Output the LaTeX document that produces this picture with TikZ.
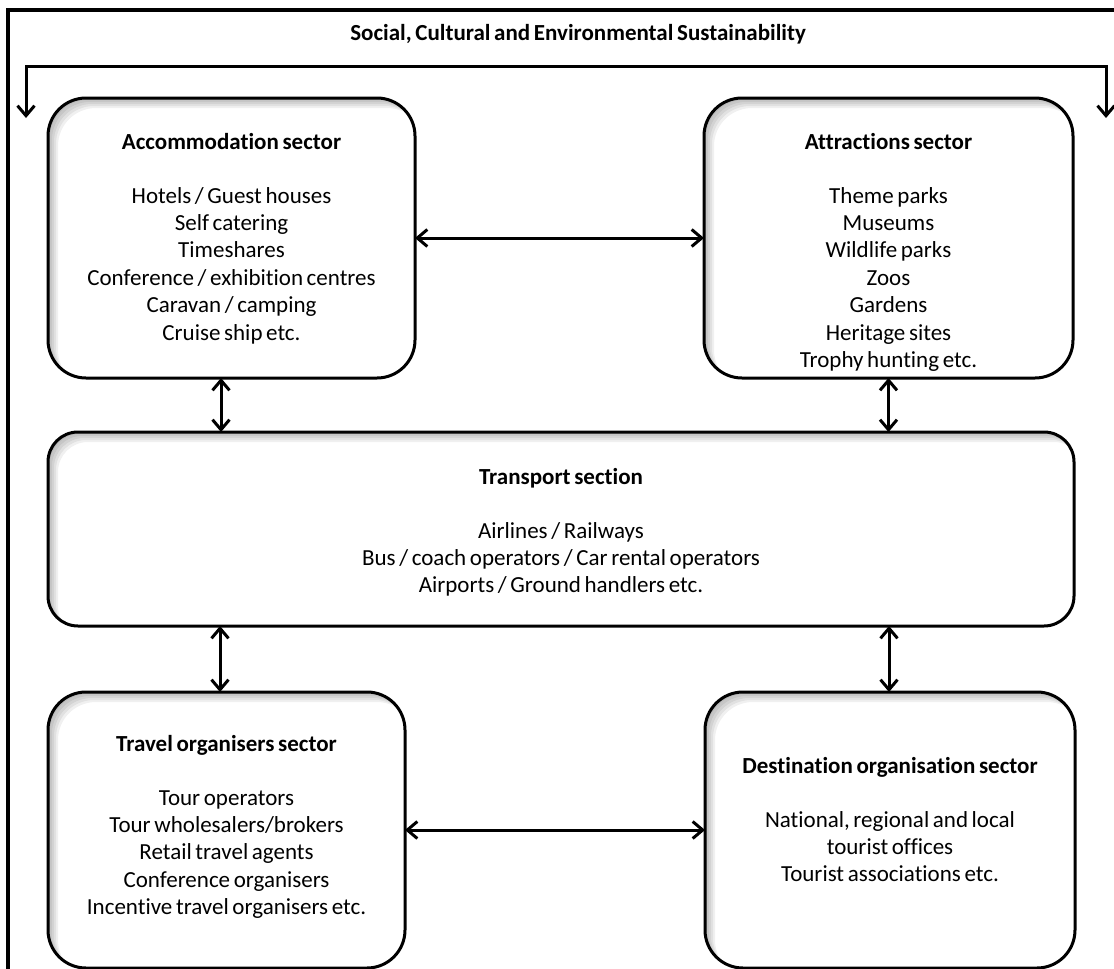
\documentclass[tikz,border=0pt]{standalone}
\usepackage{fontspec}
\setmainfont{Carlito}[Ligatures={NoCommon,NoContextual}, WordSpace=0.7]
\usetikzlibrary{arrows.meta,calc}

% text block of a sector box: width, height, first-baseline depth, heading, entries
\newcommand\sectorbody[5]{%
  \parbox[c][#2][t]{#1}{\centering\rule{0pt}{#3}\textbf{#4}\\[26.6pt]#5}}

\tikzset{
  % soft shadow along the inner top and left edges of a rounded box
  innershadow/.style={path picture={
    \foreach \k in {2,4,6,8,10}{
      \fill[black, opacity=0.06, even odd rule, rounded corners=#1]
        ([shift={(-30pt,30pt)}]path picture bounding box.north west) rectangle
        ([shift={(30pt,-30pt)}]path picture bounding box.south east)
        ([shift={(\k pt,-\k pt)}]path picture bounding box.north west) rectangle
        ([shift={(\k pt,-\k pt)}]path picture bounding box.south east);
    }}},
  sector/.style={draw, line width=3pt, rounded corners=#1, inner sep=0pt,
    outer sep=0pt, align=center, fill=white, innershadow=#1},
  head/.style={font=\bfseries\fontsize{23}{27.4}\selectfont},
  barb/.tip={Straight Barb[length=10pt,width=17pt]},
  link/.style={line width=3pt, barb-barb},
  feed/.style={line width=3pt, -barb},
}

\begin{document}
\begin{tikzpicture}[x=1pt, y=-1pt,
  every node/.style={font=\fontsize{23}{27.4}\selectfont, text=black}]

\useasboundingbox (0,0) rectangle (1114,969);
\fill[white] (0,0) rectangle (1114,969);

% outer frame (continues past the right and bottom edges)
\draw[line width=4pt] (8,975) -- (8,10) -- (1120,10);

% heading and the bracket feeding both upper sectors
\node[head] (sus) at (578,34) {Social, Cultural and Environmental Sustainability};
\coordinate (apex) at (578,66);
\coordinate (bl) at (26,118);
\coordinate (br) at (1106,118);
\draw[feed] (apex) -| (bl);
\draw[feed] (apex) -| (br);

% sector boxes
\node[sector=38, minimum width=367pt, minimum height=280pt] (acc) at (231.5,238)
  {\sectorbody{340pt}{280pt}{51pt}{Accommodation sector}{%
   Hotels / Guest houses\\ Self catering\\ Timeshares\\
   Conference / exhibition centres\\ Caravan / camping\\ Cruise ship etc.}};

\node[sector=38, minimum width=369pt, minimum height=280pt] (att) at (888.5,238)
  {\sectorbody{340pt}{280pt}{51pt}{Attractions sector}{%
   Theme parks\\ Museums\\ Wildlife parks\\ Zoos\\ Gardens\\
   Heritage sites\\ Trophy hunting etc.}};

\node[sector=30, minimum width=1026pt, minimum height=194pt] (tra) at (561,529)
  {\sectorbody{1000pt}{194pt}{52pt}{Transport section}{%
   Airlines / Railways\\ Bus / coach operators / Car rental operators\\
   Airports / Ground handlers etc.}};

\node[sector=38, minimum width=357pt, minimum height=276pt] (org) at (226.5,830)
  {\sectorbody{340pt}{276pt}{59pt}{Travel organisers sector}{%
   Tour operators\\ Tour wholesalers/brokers\\ Retail travel agents\\
   Conference organisers\\ Incentive travel organisers etc.}};

\node[sector=38, minimum width=370pt, minimum height=276pt] (des) at (890,830)
  {\sectorbody{340pt}{276pt}{81pt}{Destination organisation sector}{%
   National, regional and local\\ tourist offices\\ Tourist associations etc.}};

% two-way links between sectors
\draw[link] (acc.east) -- (att.west);
\draw[link] (org.east) -- (des.west);
\draw[link] ([xshift=-10.5pt]acc.south) -- ([xshift=-10.5pt]acc.south |- tra.north);
\draw[link] (att.south) -- (att.south |- tra.north);
\draw[link] ([xshift=-6.5pt]org.north |- tra.south) -- ([xshift=-6.5pt]org.north);
\draw[link] ([xshift=-1pt]des.north |- tra.south) -- ([xshift=-1pt]des.north);

\end{tikzpicture}
\end{document}
